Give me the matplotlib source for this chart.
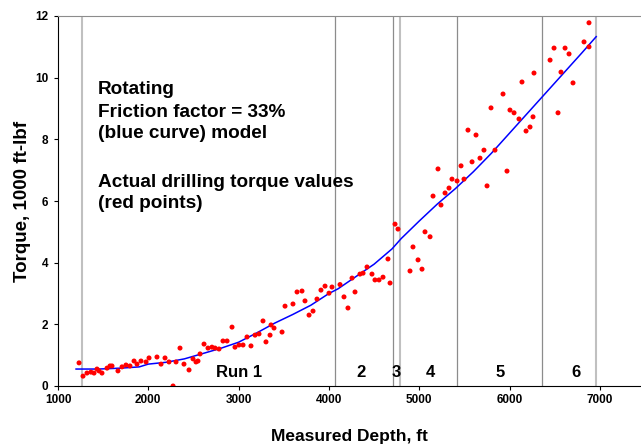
import matplotlib
matplotlib.use("Agg")
import matplotlib.pyplot as plt

plt.rcParams['font.family'] = ['Liberation Sans', 'DejaVu Sans']

# Measured torque points (depth ft, torque 1000 ft-lbf)
depth_pts = [1233, 1277, 1321, 1365, 1399, 1432, 1454, 1487, 1543, 1576, 1598, 1664, 1709, 1753,
             1797, 1842, 1875, 1919, 1975, 2008, 2096, 2141, 2185, 2229, 2274, 2307, 2351, 2395,
             2451, 2495, 2528, 2550, 2573, 2617, 2661, 2705, 2739, 2783, 2827, 2872, 2927, 2960,
             3004, 3049, 3093, 3137, 3182, 3226, 3270, 3303, 3348, 3359, 3392, 3481, 3514, 3602,
             3647, 3702, 3735, 3780, 3824, 3868, 3912, 3957, 4001, 4034, 4123, 4167, 4211, 4256,
             4289, 4344, 4378, 4422, 4477, 4510, 4555, 4599, 4654, 4677, 4732, 4765, 4898, 4931,
             4987, 5031, 5064, 5120, 5153, 5208, 5241, 5286, 5330, 5363, 5419, 5463, 5496, 5540,
             5585, 5629, 5673, 5717, 5751, 5795, 5839, 5928, 5972, 6005, 6050, 6105, 6138, 6183,
             6227, 6260, 6271, 6449, 6493, 6537, 6570, 6615, 6659, 6703, 6825, 6880, 6880]
torque_pts = [0.75, 0.32, 0.42, 0.45, 0.42, 0.55, 0.49, 0.42, 0.58, 0.65, 0.65, 0.49, 0.62, 0.68,
              0.65, 0.81, 0.71, 0.81, 0.78, 0.91, 0.94, 0.71, 0.91, 0.78, 0.0, 0.78, 1.23, 0.71,
              0.52, 0.88, 0.78, 0.81, 1.04, 1.36, 1.23, 1.26, 1.23, 1.20, 1.46, 1.46, 1.91, 1.26,
              1.33, 1.33, 1.59, 1.30, 1.65, 1.69, 2.11, 1.43, 1.65, 1.98, 1.88, 1.75, 2.59, 2.66,
              3.05, 3.08, 2.76, 2.30, 2.43, 2.82, 3.11, 3.24, 3.01, 3.21, 3.29, 2.89, 2.53, 3.50,
              3.05, 3.63, 3.66, 3.86, 3.63, 3.44, 3.44, 3.53, 4.12, 3.34, 5.25, 5.09, 3.73, 4.51,
              4.09, 3.79, 5.00, 4.84, 6.16, 7.04, 5.87, 6.26, 6.42, 6.71, 6.65, 7.14, 6.71, 8.30,
              7.27, 8.14, 7.39, 7.65, 6.49, 9.02, 7.65, 9.47, 6.97, 8.95, 8.86, 8.66, 9.86, 8.27,
              8.40, 8.73, 10.15, 10.57, 10.96, 8.86, 10.18, 10.96, 10.77, 9.83, 11.16, 11.00, 11.78]

# Model curve (friction factor 33%)
depth_model = [1200, 1450, 1700, 1900, 2000, 2200, 2400, 2600, 2800, 3000, 3200, 3400, 3600,
               3800, 4000, 4100, 4250, 4500, 4700, 4800, 5000, 5200, 5400, 5600, 5800, 6000,
               6200, 6400, 6600, 6800, 6960]
torque_model = [0.55, 0.55, 0.58, 0.62, 0.71, 0.77, 0.88, 1.05, 1.22, 1.42, 1.72, 2.04, 2.32,
                2.62, 3.00, 3.15, 3.45, 3.95, 4.45, 4.78, 5.35, 5.90, 6.40, 6.95, 7.55, 8.20,
                8.85, 9.50, 10.15, 10.80, 11.33]

# Run boundaries
run_lines_dark = [4068, 4710, 5419, 6360]
run_lines_light = [1266, 4787, 6958]
run_labels = ["Run 1", "2", "3", "4", "5", "6"]
run_label_x = [3000, 4355, 4743, 5120, 5895, 6736]

xticks = [1000, 2000, 3000, 4000, 5000, 6000, 7000]
yticks = [0, 2, 4, 6, 8, 10, 12]

fig = plt.figure(figsize=(6.41, 4.45), dpi=100)
ax = fig.add_axes([58/641, 59/445, 583/641, 370/445])

for x in run_lines_dark:
    ax.axvline(x, color='#8c8c8c', lw=0.9, zorder=1)
for x in run_lines_light:
    ax.axvline(x, color='#c0c0c0', lw=1.5, zorder=1)

ax.plot(depth_model, torque_model, color='#0000ff', lw=1.1, zorder=3)
ax.scatter(depth_pts, torque_pts, s=13, color='#ff0000', edgecolors='none', zorder=4)

ax.set_xlim(1000, 7456)
ax.set_ylim(0, 12)
ax.set_xticks(xticks)
ax.set_yticks(yticks)
ax.set_xticklabels([str(v) for v in xticks], fontweight='bold', fontsize=8.5)
ax.set_yticklabels([str(v) for v in yticks], fontweight='bold', fontsize=8.5)
ax.tick_params(direction='out', length=3, width=0.8, color='black')
ax.tick_params(axis='x', pad=2.5)
ax.tick_params(axis='y', pad=4)

ax.spines['right'].set_visible(False)
ax.spines['top'].set_color('#8c8c8c')
ax.spines['left'].set_color('black')
ax.spines['bottom'].set_color('black')

ax.set_xlabel("Measured Depth, ft", fontweight='bold', fontsize=12.5, labelpad=17)
ax.set_ylabel("Torque, 1000 ft-lbf", fontweight='bold', fontsize=13.5, labelpad=3)

text_lines = ["Rotating", "Friction factor = 33%", "(blue curve) model",
              "Actual drilling torque values", "(red points)"]
text_y = [9.455, 8.74, 8.04, 6.45, 5.77]
for t, y in zip(text_lines, text_y):
    ax.text(1443, y, t, fontweight='bold', fontsize=13.7, va='baseline', ha='left')

for lab, x in zip(run_labels, run_label_x):
    ax.text(x, 0.30, lab, fontweight='bold', fontsize=12, va='baseline', ha='center')

fig.savefig("out.png", dpi=100)
